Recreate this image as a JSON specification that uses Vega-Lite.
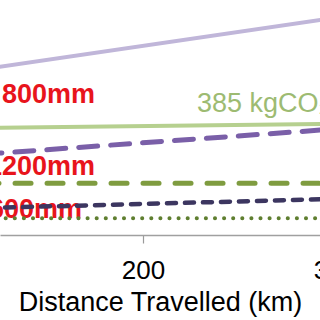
{
  "$schema": "https://vega.github.io/schema/vega-lite/v6.json",
  "width": 320,
  "height": 235,
  "autosize": {"type": "none"},
  "padding": {"left": 0, "top": 0, "right": 0, "bottom": 85},
  "background": "white",
  "config": {"view": {"stroke": null}, "font": "Liberation Sans"},
  "datasets": {
    "lines": [
      {"series": "lavender", "km": 100, "co2": 569},
      {"series": "lavender", "km": 320, "co2": 787},
      {"series": "lightgreen", "km": 100, "co2": 377},
      {"series": "lightgreen", "km": 320, "co2": 394},
      {"series": "purpledash", "km": 100, "co2": 277},
      {"series": "purpledash", "km": 320, "co2": 384},
      {"series": "greendash", "km": 100, "co2": 182.6},
      {"series": "greendash", "km": 320, "co2": 182.6},
      {"series": "darkdash", "km": 100, "co2": 92},
      {"series": "darkdash", "km": 320, "co2": 131},
      {"series": "greendot", "km": 100, "co2": 59},
      {"series": "greendot", "km": 320, "co2": 59}
    ],
    "redlabels": [
      {"label": "800mm", "km": 175, "co2": 466},
      {"label": "1200mm", "km": 175, "co2": 212},
      {"label": "1600mm", "km": 168.2, "co2": 60}
    ],
    "greenlabel": [
      {"label": "385 kgCO₂", "km": 228.1, "co2": 434}
    ]
  },
  "encoding": {
    "x": {
      "field": "km",
      "type": "quantitative",
      "scale": {"domain": [125.5, 313.0], "range": [0, 360], "nice": false, "zero": false},
      "axis": {
        "values": [200, 300],
        "title": "Distance Travelled (km)",
        "titleFont": "Liberation Sans",
        "titleFontSize": 27,
        "titleFontWeight": "normal",
        "titleColor": "#000000",
        "titleBaseline": "alphabetic",
        "titleY": 75,
        "titleX": 160,
        "labelFont": "Liberation Sans",
        "labelFontSize": 26,
        "labelColor": "#000000",
        "labelBaseline": "alphabetic",
        "labelPadding": 35,
        "labelFlush": false,
        "labelOverlap": false,
        "labelBound": false,
        "tickSize": 8,
        "tickColor": "#9a9a9a",
        "tickWidth": 1.2,
        "domainColor": "#a0a0a0",
        "domainWidth": 1.5,
        "grid": false
      }
    },
    "y": {
      "field": "co2",
      "type": "quantitative",
      "scale": {"domain": [0, 830], "nice": false},
      "axis": null
    }
  },
  "layer": [
    {
      "data": {"name": "redlabels"},
      "mark": {"type": "text", "align": "right", "baseline": "alphabetic", "fontSize": 27, "fontWeight": "bold", "font": "Liberation Sans", "color": "#e8141c", "clip": true},
      "encoding": {"text": {"field": "label"}}
    },
    {
      "data": {"name": "greenlabel"},
      "mark": {"type": "text", "align": "left", "baseline": "alphabetic", "fontSize": 27, "font": "Liberation Sans", "color": "#9dbb72", "clip": true},
      "encoding": {"text": {"field": "label"}}
    },
    {
      "data": {"name": "lines"},
      "transform": [{"filter": "datum.series == 'lavender'"}],
      "mark": {"type": "line", "color": "#c0b6d9", "strokeWidth": 4, "clip": true},
      "encoding": {}
    },
    {
      "data": {"name": "lines"},
      "transform": [{"filter": "datum.series == 'lightgreen'"}],
      "mark": {"type": "line", "color": "#b6d08f", "strokeWidth": 4, "clip": true},
      "encoding": {}
    },
    {
      "data": {"name": "lines"},
      "transform": [{"filter": "datum.series == 'purpledash'"}],
      "mark": {"type": "line", "color": "#7a5fa8", "strokeWidth": 5, "strokeDash": [19, 13], "strokeCap": "round", "clip": true},
      "encoding": {}
    },
    {
      "data": {"name": "lines"},
      "transform": [{"filter": "datum.series == 'greendash'"}],
      "mark": {"type": "line", "color": "#7f9c40", "strokeWidth": 5, "strokeDash": [16, 16], "strokeCap": "round", "clip": true},
      "encoding": {}
    },
    {
      "data": {"name": "lines"},
      "transform": [{"filter": "datum.series == 'darkdash'"}],
      "mark": {"type": "line", "color": "#3c3660", "strokeWidth": 4.5, "strokeDash": [9, 9], "strokeCap": "round", "clip": true},
      "encoding": {}
    },
    {
      "data": {"name": "lines"},
      "transform": [{"filter": "datum.series == 'greendot'"}],
      "mark": {"type": "line", "color": "#5f7f30", "strokeWidth": 4, "strokeDash": [0.1, 9], "strokeCap": "round", "clip": true},
      "encoding": {}
    }
  ]
}
